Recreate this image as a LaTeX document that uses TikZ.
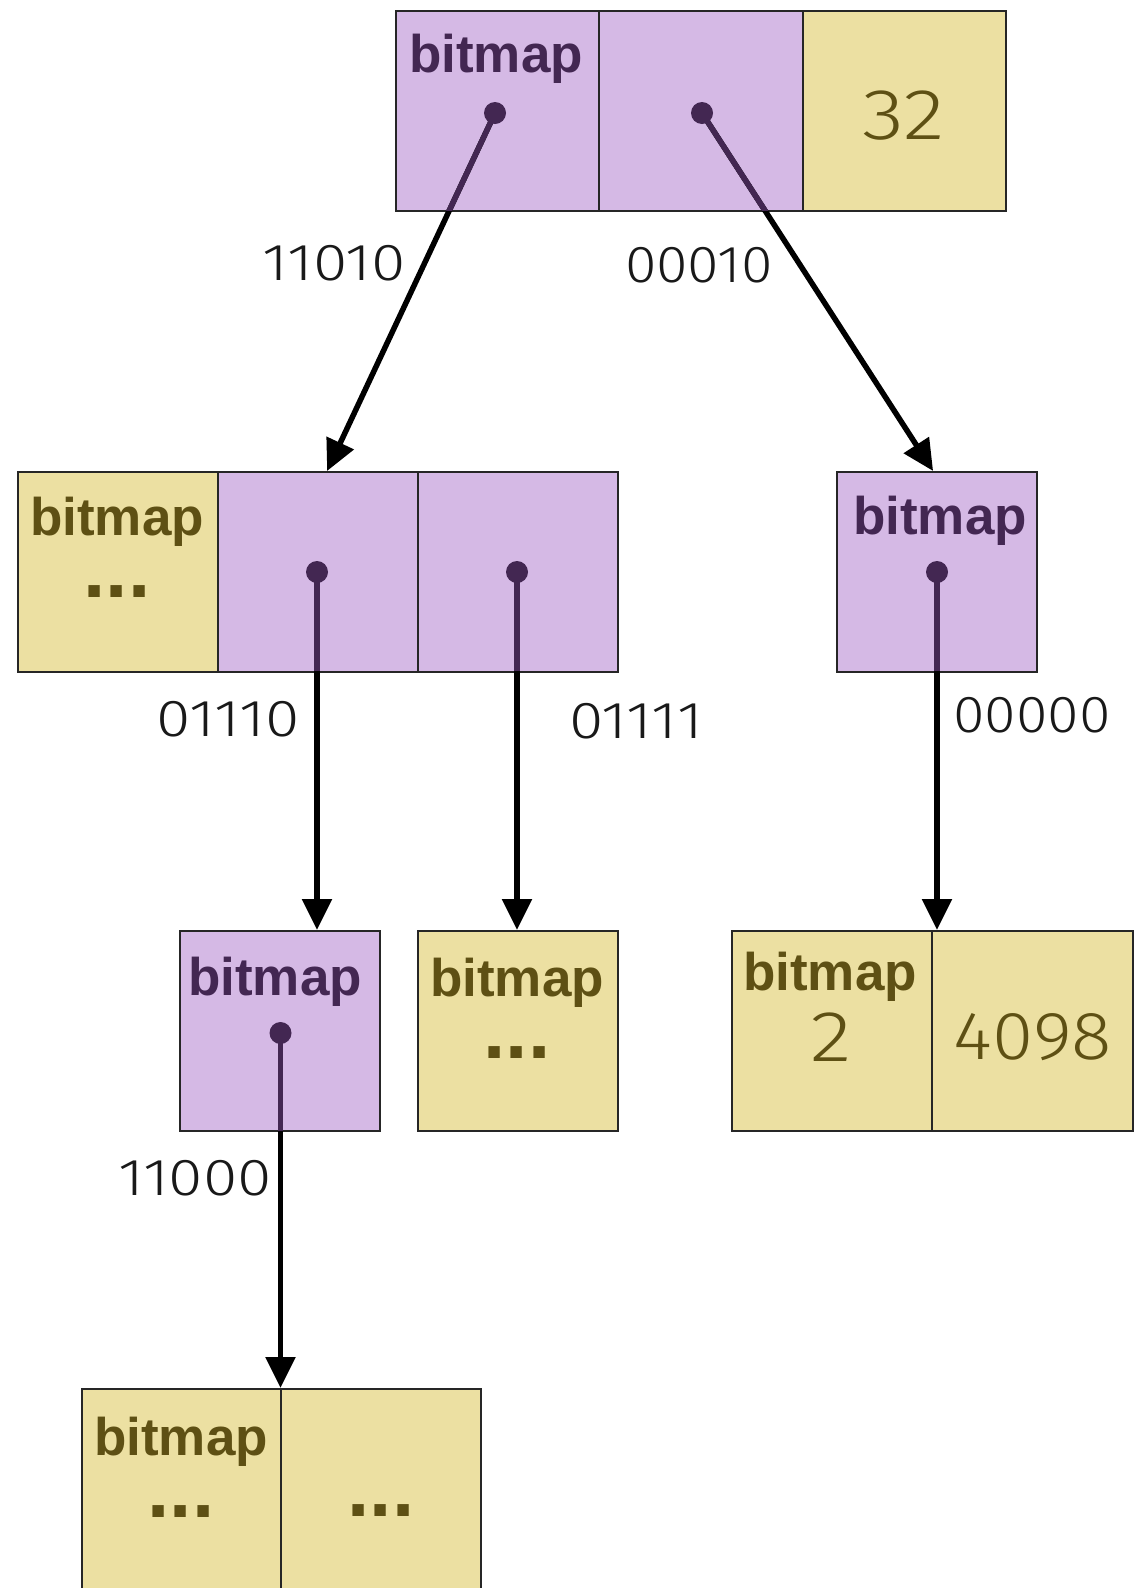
\documentclass[tikz,border=0pt]{standalone}
\usepackage{fontspec}
\setmainfont{Liberation Sans}
\newfontfamily\lightf{Fira Sans}[UprightFont=* Light, FakeStretch=1.2]
\newfontfamily\lightg{Fira Sans}[UprightFont=* Light, FakeStretch=1.1]
\usetikzlibrary{arrows.meta,calc}
\definecolor{lil}{HTML}{D5B9E5}
\definecolor{yel}{HTML}{ECE0A2}
\definecolor{ptext}{HTML}{432752}
\definecolor{ytext}{HTML}{5E5014}
\tikzset{
  cellbase/.style={draw=black!85, line width=2.2pt, inner sep=0pt, anchor=north west, minimum height=200pt},
  pcell/.style={cellbase, fill=lil},
  ycell/.style={cellbase, fill=yel},
  bm/.style={font=\bfseries\fontsize{53}{60}\selectfont, inner sep=0pt},
  bmd/.style={font=\bfseries\fontsize{53}{62}\selectfont, inner sep=0pt, align=center, anchor=north, text=ytext},
  num/.style={font=\lightf\fontsize{72}{74}\selectfont, inner sep=0pt, text=ytext},
  numw/.style={font=\lightg\fontsize{68}{70}\selectfont, inner sep=0pt, text=ytext},
  lab/.style={font=\lightf\fontsize{52}{56}\selectfont, inner sep=0pt, text=black!90},
  labw/.style={font=\lightg\fontsize{52}{56}\selectfont, inner sep=0pt, text=black!90},
  dotn/.style={circle, fill=ptext, minimum size=22pt, inner sep=0pt},
  arr/.style={line width=5.5pt, draw=black, -{Triangle[length=31pt,width=29pt]}},
  pline/.style={line width=5.5pt, draw=ptext}
}
\newcommand{\bigdots}{{\fontsize{80}{62}\selectfont ...}}
\begin{document}
\begin{tikzpicture}[x=1pt,y=-1pt]
\useasboundingbox (0,0) rectangle (1135,1588);
% top box
\node[pcell, minimum width=203pt] (t1) at (395,10) {};
\node[pcell, minimum width=204pt] (t2) at (598,10) {};
\node[ycell, minimum width=203pt] (t3) at (802,10) {};
% middle-left box
\node[ycell, minimum width=200pt] (m1) at (17,471) {};
\node[pcell, minimum width=200pt] (m2) at (217,471) {};
\node[pcell, minimum width=200pt] (m3) at (417,471) {};
% right box
\node[pcell, minimum width=200pt] (r1) at (836,471) {};
% row 3
\node[pcell, minimum width=200pt] (a1) at (179,930) {};
\node[ycell, minimum width=200pt] (b1) at (417,930) {};
\node[ycell, minimum width=200pt] (c1) at (731,930) {};
\node[ycell, minimum width=201pt] (c2) at (931,930) {};
% bottom
\node[ycell, minimum width=200pt] (e1) at (81,1388) {};
\node[ycell, minimum width=200pt] (e2) at (280,1388) {};

% texts
\node[bm, text=ptext] (tx1) at (496,59) {bitmap};
\node[num] (tx32) at (904,116) {32};
\node[bmd] (txm1) at (117,497) {bitmap\\\bigdots};
\node[bm, text=ptext] (txr1) at (940,521) {bitmap};
\node[bm, text=ptext] (txa1) at (275,982) {bitmap};
\node[bmd] (txb1) at (517,958) {bitmap\\\bigdots};
\node[bm, text=ytext] (txc1) at (830,977) {bitmap};
\node[num] (tx2) at (831,1037) {2};
\node[numw] (tx4098) at (1033,1037) {4098};
\node[bmd] (txe1) at (181,1417) {bitmap\\\bigdots};
\node[font=\bfseries\fontsize{80}{80}\selectfont, inner sep=0pt, text=ytext, anchor=base] (de2) at (381,1516) {...};

% dots
\coordinate (d1) at (495,113);
\coordinate (d2) at (702,113);
\coordinate (d3) at (317,572);
\coordinate (d4) at (517,572);
\coordinate (d5) at (937,572);
\coordinate (d6) at (280.5,1033);
\coordinate (g1) at ($(m2.north)+(9,0)$);
\coordinate (g2) at ($(r1.north)+(-4,0)$);

% arrows
\draw[arr] (d1) -- (g1);
\draw[arr] (d2) -- (g2);
\draw[arr] (d3) -- (d3 |- a1.north);
\draw[arr] (d4) -- (d4 |- b1.north);
\draw[arr] (d5) -- (d5 |- c1.north);
\draw[arr] (d6) -- (d6 |- e1.north);

% purple parts inside the boxes
\begin{scope}\clip (395,10) rectangle (1005,210);
\draw[pline] (d1) -- (g1);
\draw[pline] (d2) -- (g2);
\end{scope}
\begin{scope}\clip (17,471) rectangle (1040,670);
\draw[pline] (d3) -- (d3 |- a1.north);
\draw[pline] (d4) -- (d4 |- b1.north);
\draw[pline] (d5) -- (d5 |- c1.north);
\end{scope}
\begin{scope}\clip (179,930) rectangle (379,1130);
\draw[pline] (d6) -- (d6 |- e1.north);
\end{scope}

\foreach \d in {d1,d2,d3,d4,d5,d6}{\node[dotn] (n\d) at (\d) {};}

% labels
\node[lab] (l1) at (334,263) {11010};
\node[labw] (l2) at (699,265) {00010};
\node[lab] (l3) at (228,719) {01110};
\node[lab] (l4) at (636,721) {01111};
\node[labw] (l5) at (1032,715) {00000};
\node[lab] (l6) at (195,1178) {11000};
\end{tikzpicture}
\end{document}
